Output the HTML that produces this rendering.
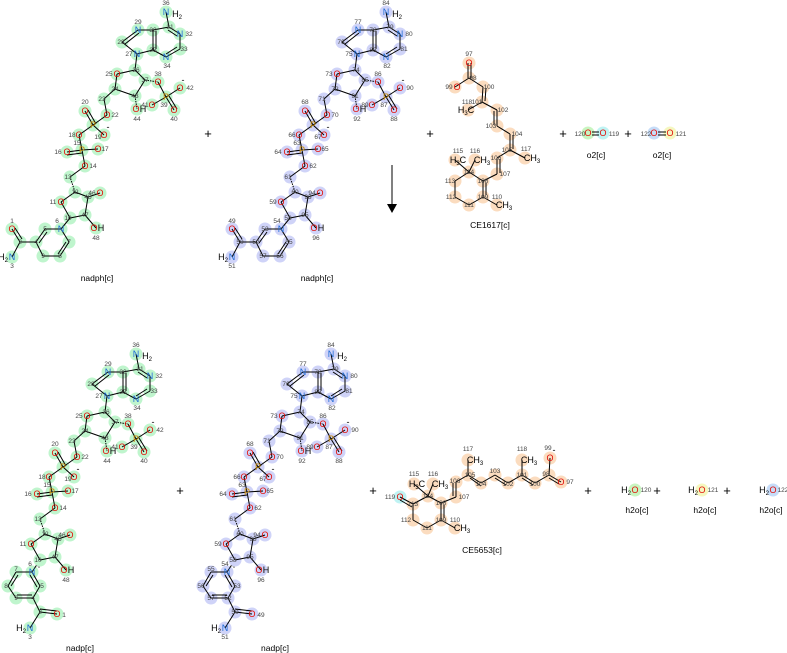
<!DOCTYPE html>
<html><head><meta charset="utf-8"><style>
html,body{margin:0;padding:0;background:#fff}
svg{display:block}
.e{font-family:"Liberation Sans",sans-serif;font-size:9px;text-anchor:middle}
.n{font-family:"Liberation Sans",sans-serif;font-size:6.5px;fill:#444;text-anchor:middle}
.k{font-family:"Liberation Sans",sans-serif;font-size:9px;text-anchor:middle;fill:#000}
.l{font-family:"Liberation Sans",sans-serif;font-size:8.5px;text-anchor:middle;fill:#000}
.p{font-family:"Liberation Sans",sans-serif;font-size:13px;text-anchor:middle;fill:#000}
.O{fill:#e2100a}.N{fill:#1e6ad6}.P{fill:#c98a00}
line{stroke:#000;stroke-width:1}
</style></head><body>
<svg width="787" height="653" viewBox="0 0 787 653" xmlns="http://www.w3.org/2000/svg">
<defs>
<g id="mc">
<circle cx="70" cy="218" r="6.5"/><circle cx="61" cy="202" r="6.5"/><circle cx="75" cy="192" r="6.5"/><circle cx="70" cy="177" r="6.5"/><circle cx="85" cy="166" r="6.5"/><circle cx="82" cy="150" r="6.5"/><circle cx="67" cy="152" r="6.5"/><circle cx="98" cy="149" r="6.5"/><circle cx="79" cy="135" r="6.5"/><circle cx="104" cy="135" r="6.5"/><circle cx="85" cy="111" r="6.5"/><circle cx="93" cy="125" r="6.5"/><circle cx="107" cy="115" r="6.5"/><circle cx="104" cy="99" r="6.5"/><circle cx="115" cy="89" r="6.5"/><circle cx="117" cy="74" r="6.5"/><circle cx="135" cy="70" r="6.5"/><circle cx="137" cy="54" r="6.5"/><circle cx="122" cy="42" r="6.5"/><circle cx="138" cy="30" r="6.5"/><circle cx="153" cy="30" r="6.5"/><circle cx="169" cy="27" r="6.5"/><circle cx="180" cy="34" r="6.5"/><circle cx="180" cy="49" r="6.5"/><circle cx="166" cy="57" r="6.5"/><circle cx="153" cy="50" r="6.5"/><circle cx="166" cy="12" r="6.5"/><circle cx="145" cy="80" r="6.5"/><circle cx="158" cy="82" r="6.5"/><circle cx="166" cy="97" r="6.5"/><circle cx="174" cy="110" r="6.5"/><circle cx="152" cy="105" r="6.5"/><circle cx="180" cy="88" r="6.5"/><circle cx="135" cy="96" r="6.5"/><circle cx="137" cy="109" r="6.5"/><circle cx="88" cy="197" r="6.5"/><circle cx="100" cy="193" r="6.5"/><circle cx="85" cy="215" r="6.5"/><circle cx="96" cy="228" r="6.5"/>
</g>
<g id="nc1">
<circle cx="12" cy="229" r="6.5"/><circle cx="20" cy="242" r="6.5"/><circle cx="12" cy="257" r="6.5"/><circle cx="36" cy="242" r="6.5"/><circle cx="45" cy="229" r="6.5"/><circle cx="61" cy="229" r="6.5"/><circle cx="69" cy="242" r="6.5"/><circle cx="60" cy="256" r="6.5"/><circle cx="43" cy="256" r="6.5"/>
</g>
<g id="nc2">
<circle cx="32" cy="572" r="6.5"/><circle cx="40" cy="586" r="6.5"/><circle cx="33" cy="598" r="6.5"/><circle cx="16" cy="598" r="6.5"/><circle cx="8" cy="586" r="6.5"/><circle cx="16" cy="572" r="6.5"/><circle cx="40" cy="612" r="6.5"/><circle cx="57" cy="614" r="6.5"/><circle cx="30" cy="628" r="6.5"/>
</g>
<g id="mb">
<line x1="70" y1="218" x2="61" y2="202"/><line x1="61" y1="202" x2="75" y2="192"/><line x1="75" y1="192" x2="88" y2="197"/><line x1="88" y1="197" x2="85" y2="215"/><line x1="85" y1="215" x2="70" y2="218"/><line x1="88" y1="197" x2="100" y2="193" stroke-width="2.5"/><line x1="85" y1="215" x2="96" y2="228" stroke-width="2.5"/><line x1="75" y1="192" x2="70" y2="177" stroke-dasharray="1.5 1"/><line x1="70" y1="177" x2="85" y2="166"/><line x1="85" y1="166" x2="82" y2="150"/><line x1="82" y1="150" x2="67" y2="152"/><line x1="82" y1="153" x2="67" y2="155"/><line x1="82" y1="150" x2="98" y2="149"/><line x1="82" y1="150" x2="79" y2="135"/><line x1="79" y1="135" x2="93" y2="125"/><line x1="93" y1="125" x2="85" y2="111"/><line x1="96" y1="124" x2="88" y2="110"/><line x1="93" y1="125" x2="104" y2="135"/><line x1="93" y1="125" x2="107" y2="115"/><line x1="107" y1="115" x2="104" y2="99"/><line x1="104" y1="99" x2="115" y2="89" stroke-width="2.5"/><line x1="115" y1="89" x2="117" y2="74"/><line x1="117" y1="74" x2="135" y2="70"/><line x1="135" y1="70" x2="145" y2="80"/><line x1="145" y1="80" x2="135" y2="96"/><line x1="135" y1="96" x2="115" y2="89"/><line x1="135" y1="96" x2="137" y2="109" stroke-dasharray="1.5 1"/><line x1="145" y1="80" x2="158" y2="82" stroke-dasharray="1.5 1"/><line x1="158" y1="82" x2="166" y2="97"/><line x1="166" y1="97" x2="174" y2="110"/><line x1="169" y1="96" x2="177" y2="109"/><line x1="166" y1="97" x2="152" y2="105"/><line x1="166" y1="97" x2="180" y2="88"/><line x1="135" y1="70" x2="137" y2="54" stroke-width="2.5"/><line x1="137" y1="54" x2="122" y2="42"/><line x1="122" y1="42" x2="138" y2="30"/><line x1="125" y1="44" x2="139" y2="33"/><line x1="138" y1="30" x2="153" y2="30"/><line x1="153" y1="30" x2="153" y2="50"/><line x1="156" y1="31" x2="156" y2="49"/><line x1="153" y1="50" x2="137" y2="54"/><line x1="153" y1="30" x2="169" y2="27"/><line x1="169" y1="27" x2="180" y2="34"/><line x1="168" y1="30" x2="177" y2="36"/><line x1="180" y1="34" x2="180" y2="49"/><line x1="180" y1="49" x2="166" y2="57"/><line x1="177" y1="47" x2="166" y2="54"/><line x1="166" y1="57" x2="153" y2="50"/><line x1="169" y1="27" x2="166" y2="12"/>
</g>
<g id="nb1">
<line x1="61" y1="229" x2="70" y2="218" stroke-width="2.5"/><line x1="12" y1="229" x2="20" y2="242"/><line x1="15" y1="228" x2="22" y2="239"/><line x1="20" y1="242" x2="12" y2="257"/><line x1="20" y1="242" x2="36" y2="242"/><line x1="36" y1="242" x2="45" y2="229"/><line x1="39" y1="243" x2="47" y2="232"/><line x1="45" y1="229" x2="61" y2="229"/><line x1="61" y1="229" x2="69" y2="242"/><line x1="69" y1="242" x2="60" y2="256"/><line x1="66" y1="242" x2="58" y2="254"/><line x1="60" y1="256" x2="43" y2="256"/><line x1="43" y1="256" x2="36" y2="242"/>
</g>
<g id="nb2">
<line x1="32" y1="572" x2="40" y2="560" stroke-width="2.5"/><line x1="32" y1="572" x2="40" y2="586"/><line x1="30" y1="575" x2="37" y2="587"/><line x1="40" y1="586" x2="33" y2="598"/><line x1="33" y1="598" x2="16" y2="598"/><line x1="32" y1="595" x2="17" y2="595"/><line x1="16" y1="598" x2="8" y2="586"/><line x1="8" y1="586" x2="16" y2="572"/><line x1="11" y1="586" x2="18" y2="575"/><line x1="16" y1="572" x2="32" y2="572"/><line x1="33" y1="598" x2="40" y2="612"/><line x1="40" y1="612" x2="57" y2="614"/><line x1="40" y1="609" x2="57" y2="611"/><line x1="40" y1="612" x2="30" y2="628"/>
</g>
</defs>

<!-- top-left nadph -->
<use href="#mc" fill="#bff5cd"/><use href="#nc1" fill="#bff5cd"/><use href="#mb"/><use href="#nb1"/>
<g>
<text class="e O" x="61" y="205">O</text><text class="e O" x="85" y="169">O</text><text class="e P" x="82" y="153">P</text><text class="e O" x="67" y="155">O</text><text class="e O" x="98" y="152">O</text><text class="e O" x="79" y="138">O</text><text class="e O" x="104" y="138">O</text><text class="k" x="108" y="130">-</text><text class="e O" x="85" y="114">O</text><text class="e P" x="93" y="128">P</text><text class="e O" x="107" y="118">O</text><text class="e O" x="117" y="77">O</text><text class="e N" x="137" y="57">N</text><text class="e N" x="138" y="33">N</text><text class="e N" x="180" y="37">N</text><text class="e N" x="166" y="60">N</text><text class="e N" x="166" y="15">N</text><text class="k" x="177" y="17">H<tspan font-size="6" dy="2">2</tspan></text><text class="e O" x="158" y="85">O</text><text class="e P" x="166" y="100">P</text><text class="e O" x="174" y="113">O</text><text class="e O" x="152" y="108">O</text><text class="e O" x="180" y="91">O</text><text class="k" x="183" y="83">-</text><text class="e O" x="136" y="112">O</text><text class="k" x="143" y="112">H</text><text class="e O" x="100" y="196">O</text><text class="e O" x="94" y="231">O</text><text class="k" x="101" y="231">H</text>
<text class="e O" x="12" y="232">O</text><text class="e N" x="12" y="260">N</text><text class="k" x="3" y="260">H<tspan font-size="6" dy="2">2</tspan></text><text class="e N" x="61" y="232">N</text>
<text class="n" x="12" y="223">1</text><text class="n" x="20" y="244">2</text><text class="n" x="12" y="268">3</text><text class="n" x="36" y="244">4</text><text class="n" x="45" y="231">5</text><text class="n" x="57" y="223">6</text><text class="n" x="69" y="244">7</text><text class="n" x="60" y="258">8</text><text class="n" x="43" y="258">9</text>
<text class="n" x="68" y="220">10</text><text class="n" x="53" y="204">11</text><text class="n" x="75" y="194">12</text><text class="n" x="68" y="179">13</text><text class="n" x="93" y="168">14</text><text class="n" x="77" y="145">15</text><text class="n" x="58" y="154">16</text><text class="n" x="105" y="151">17</text><text class="n" x="72" y="137">18</text><text class="n" x="98" y="139">19</text><text class="n" x="85" y="104">20</text><text class="n" x="115" y="117">22</text><text class="n" x="102" y="101">23</text><text class="n" x="115" y="91">24</text><text class="n" x="109" y="76">25</text><text class="n" x="136" y="72">26</text><text class="n" x="129" y="56">27</text><text class="n" x="121" y="44">28</text><text class="n" x="138" y="24">29</text><text class="n" x="153" y="32">30</text><text class="n" x="170" y="29">31</text><text class="n" x="189" y="36">32</text><text class="n" x="184" y="51">33</text><text class="n" x="167" y="68">34</text><text class="n" x="153" y="52">35</text><text class="n" x="166" y="5">36</text><text class="n" x="145" y="82">37</text><text class="n" x="158" y="76">38</text><text class="n" x="164" y="107">39</text><text class="n" x="174" y="121">40</text><text class="n" x="145" y="107">41</text><text class="n" x="190" y="90">42</text><text class="n" x="135" y="98">43</text><text class="n" x="137" y="121">44</text><text class="n" x="88" y="199">45</text><text class="n" x="92" y="195">46</text><text class="n" x="85" y="217">47</text><text class="n" x="96" y="240">48</text>
</g>
<text class="l" x="97" y="281">nadph[c]</text>

<!-- top-right nadph -->
<g transform="translate(220,0)">
<use href="#mc" fill="#cfd3f8"/><use href="#nc1" fill="#cfd3f8"/><use href="#mb"/><use href="#nb1"/>
<text class="e O" x="61" y="205">O</text><text class="e O" x="85" y="169">O</text><text class="e P" x="82" y="153">P</text><text class="e O" x="67" y="155">O</text><text class="e O" x="98" y="152">O</text><text class="e O" x="79" y="138">O</text><text class="e O" x="104" y="138">O</text><text class="k" x="108" y="130">-</text><text class="e O" x="85" y="114">O</text><text class="e P" x="93" y="128">P</text><text class="e O" x="107" y="118">O</text><text class="e O" x="117" y="77">O</text><text class="e N" x="137" y="57">N</text><text class="e N" x="138" y="33">N</text><text class="e N" x="180" y="37">N</text><text class="e N" x="166" y="60">N</text><text class="e N" x="166" y="15">N</text><text class="k" x="177" y="17">H<tspan font-size="6" dy="2">2</tspan></text><text class="e O" x="158" y="85">O</text><text class="e P" x="166" y="100">P</text><text class="e O" x="174" y="113">O</text><text class="e O" x="152" y="108">O</text><text class="e O" x="180" y="91">O</text><text class="k" x="183" y="83">-</text><text class="e O" x="136" y="112">O</text><text class="k" x="143" y="112">H</text><text class="e O" x="100" y="196">O</text><text class="e O" x="94" y="231">O</text><text class="k" x="101" y="231">H</text>
<text class="e O" x="12" y="232">O</text><text class="e N" x="12" y="260">N</text><text class="k" x="3" y="260">H<tspan font-size="6" dy="2">2</tspan></text><text class="e N" x="61" y="232">N</text>
<text class="n" x="12" y="223">49</text><text class="n" x="20" y="244">50</text><text class="n" x="12" y="268">51</text><text class="n" x="36" y="244">52</text><text class="n" x="45" y="231">53</text><text class="n" x="57" y="223">54</text><text class="n" x="69" y="244">55</text><text class="n" x="60" y="258">56</text><text class="n" x="43" y="258">57</text>
<text class="n" x="68" y="220">58</text><text class="n" x="53" y="204">59</text><text class="n" x="75" y="194">60</text><text class="n" x="68" y="179">61</text><text class="n" x="93" y="168">62</text><text class="n" x="77" y="145">63</text><text class="n" x="58" y="154">64</text><text class="n" x="105" y="151">65</text><text class="n" x="72" y="137">66</text><text class="n" x="98" y="139">67</text><text class="n" x="85" y="104">68</text><text class="n" x="115" y="117">70</text><text class="n" x="102" y="101">71</text><text class="n" x="115" y="91">72</text><text class="n" x="109" y="76">73</text><text class="n" x="136" y="72">74</text><text class="n" x="129" y="56">75</text><text class="n" x="121" y="44">76</text><text class="n" x="138" y="24">77</text><text class="n" x="153" y="32">78</text><text class="n" x="170" y="29">79</text><text class="n" x="189" y="36">80</text><text class="n" x="184" y="51">81</text><text class="n" x="167" y="68">82</text><text class="n" x="153" y="52">83</text><text class="n" x="166" y="5">84</text><text class="n" x="145" y="82">85</text><text class="n" x="158" y="76">86</text><text class="n" x="164" y="107">87</text><text class="n" x="174" y="121">88</text><text class="n" x="145" y="107">89</text><text class="n" x="190" y="90">90</text><text class="n" x="135" y="98">91</text><text class="n" x="137" y="121">92</text><text class="n" x="88" y="199">93</text><text class="n" x="92" y="195">94</text><text class="n" x="85" y="217">95</text><text class="n" x="96" y="240">96</text>
</g>
<text class="l" x="317" y="281">nadph[c]</text>

<!-- plus & arrow top -->
<text class="p" x="208" y="138">+</text><text class="p" x="430" y="138">+</text><text class="p" x="563" y="138">+</text><text class="p" x="628" y="138">+</text>
<line x1="392" y1="165" x2="392" y2="206" stroke-width="2"/><polygon points="387,204 397,204 392,213" fill="#000"/>

<!-- CE1617 -->
<g fill="#fbdcbf">
<circle cx="469" cy="63" r="6.5"/><circle cx="469" cy="78" r="6.5"/><circle cx="455" cy="87" r="6.5"/><circle cx="483" cy="87" r="6.5"/><circle cx="482" cy="102" r="6.5"/><circle cx="468" cy="110" r="6.5"/><circle cx="497" cy="110" r="6.5"/><circle cx="497" cy="126" r="6.5"/><circle cx="510" cy="134" r="6.5"/><circle cx="510" cy="150" r="6.5"/><circle cx="525" cy="158" r="6.5"/><circle cx="497" cy="158" r="6.5"/><circle cx="497" cy="174" r="6.5"/><circle cx="483" cy="181" r="6.5"/><circle cx="469" cy="172" r="6.5"/><circle cx="455" cy="160" r="6.5"/><circle cx="475" cy="160" r="6.5"/><circle cx="455" cy="181" r="6.5"/><circle cx="455" cy="197" r="6.5"/><circle cx="469" cy="205" r="6.5"/><circle cx="483" cy="197" r="6.5"/><circle cx="497" cy="205" r="6.5"/>
</g>
<g>
<line x1="468" y1="63" x2="468" y2="78"/><line x1="471" y1="63" x2="471" y2="78"/><line x1="469" y1="78" x2="455" y2="87"/><line x1="469" y1="78" x2="483" y2="87"/><line x1="483" y1="87" x2="482" y2="102"/><line x1="486" y1="88" x2="485" y2="101"/><line x1="482" y1="102" x2="468" y2="110"/><line x1="482" y1="102" x2="497" y2="110"/><line x1="497" y1="110" x2="497" y2="126"/><line x1="494" y1="111" x2="494" y2="125"/><line x1="497" y1="126" x2="510" y2="134"/><line x1="510" y1="134" x2="510" y2="150"/><line x1="513" y1="135" x2="513" y2="149"/><line x1="510" y1="150" x2="525" y2="158"/><line x1="510" y1="150" x2="497" y2="158"/><line x1="497" y1="158" x2="497" y2="174"/><line x1="500" y1="159" x2="500" y2="173"/><line x1="497" y1="174" x2="483" y2="181"/><line x1="483" y1="181" x2="469" y2="172"/><line x1="469" y1="172" x2="455" y2="160"/><line x1="469" y1="172" x2="475" y2="160"/><line x1="469" y1="172" x2="455" y2="181"/><line x1="455" y1="181" x2="455" y2="197"/><line x1="455" y1="197" x2="469" y2="205"/><line x1="469" y1="205" x2="483" y2="197"/><line x1="483" y1="197" x2="483" y2="181"/><line x1="486" y1="195" x2="486" y2="183"/><line x1="483" y1="197" x2="497" y2="205"/>
<text class="e O" x="469" y="66">O</text><text class="e O" x="457" y="90">O</text><text class="k" x="466" y="113">H<tspan font-size="6" dy="2">3</tspan><tspan dy="-2">C</tspan></text><text class="k" x="532" y="161">CH<tspan font-size="6" dy="2">3</tspan></text><text class="k" x="458" y="163">H<tspan font-size="6" dy="2">3</tspan><tspan dy="-2">C</tspan></text><text class="k" x="482" y="163">CH<tspan font-size="6" dy="2">3</tspan></text><text class="k" x="504" y="208">CH<tspan font-size="6" dy="2">3</tspan></text>
<text class="n" x="469" y="56">97</text><text class="n" x="473" y="80">98</text><text class="n" x="449" y="89">99</text><text class="n" x="489" y="89">100</text><text class="n" x="477" y="104">101</text><text class="n" x="503" y="112">102</text><text class="n" x="491" y="128">103</text><text class="n" x="517" y="136">104</text><text class="n" x="507" y="152">105</text><text class="n" x="496" y="160">106</text><text class="n" x="505" y="176">107</text><text class="n" x="483" y="183">108</text><text class="n" x="483" y="199">109</text><text class="n" x="497" y="199">110</text><text class="n" x="469" y="207">111</text><text class="n" x="451" y="199">112</text><text class="n" x="450" y="183">113</text><text class="n" x="469" y="174">114</text><text class="n" x="458" y="153">115</text><text class="n" x="475" y="153">116</text><text class="n" x="526" y="151">117</text><text class="n" x="467" y="104">118</text>
</g>
<text class="l" x="490" y="228">CE1617[c]</text>

<!-- o2 -->
<circle cx="588" cy="133" r="6.5" fill="#c8f5c0"/><circle cx="603" cy="133" r="6.5" fill="#bff3f3"/>
<line x1="592" y1="132" x2="599" y2="132"/><line x1="592" y1="135" x2="599" y2="135"/>
<text class="e O" x="588" y="136">O</text><text class="e O" x="603" y="136">O</text>
<text class="n" x="580" y="136">120</text><text class="n" x="614" y="136">119</text>
<text class="l" x="596" y="158">o2[c]</text>
<circle cx="654" cy="133" r="6.5" fill="#c6dcf8"/><circle cx="670" cy="133" r="6.5" fill="#f5f7bf"/>
<line x1="658" y1="132" x2="666" y2="132"/><line x1="658" y1="135" x2="666" y2="135"/>
<text class="e O" x="654" y="136">O</text><text class="e O" x="670" y="136">O</text>
<text class="n" x="646" y="136">122</text><text class="n" x="681" y="136">121</text>
<text class="l" x="662" y="158">o2[c]</text>

<!-- bottom-left nadp -->
<use href="#nc2" fill="#bff5cd"/><use href="#nb2"/>
<text class="e O" x="57" y="617">O</text><text class="e N" x="30" y="631">N</text><text class="k" x="21" y="631">H<tspan font-size="6" dy="2">2</tspan></text><text class="e N" x="32" y="575">N</text><text class="k" x="39" y="569">+</text>
<text class="n" x="64" y="617">1</text><text class="n" x="40" y="614">2</text><text class="n" x="30" y="639">3</text><text class="n" x="33" y="600">4</text><text class="n" x="42" y="588">5</text><text class="n" x="30" y="566">6</text><text class="n" x="16" y="571">7</text><text class="n" x="6" y="588">8</text><text class="n" x="16" y="600">9</text>
<g transform="translate(-30,342)">
<use href="#mc" fill="#bff5cd"/><use href="#mb"/>
<text class="e O" x="61" y="205">O</text><text class="e O" x="85" y="169">O</text><text class="e P" x="82" y="153">P</text><text class="e O" x="67" y="155">O</text><text class="e O" x="98" y="152">O</text><text class="e O" x="79" y="138">O</text><text class="e O" x="104" y="138">O</text><text class="k" x="108" y="130">-</text><text class="e O" x="85" y="114">O</text><text class="e P" x="93" y="128">P</text><text class="e O" x="107" y="118">O</text><text class="e O" x="117" y="77">O</text><text class="e N" x="137" y="57">N</text><text class="e N" x="138" y="33">N</text><text class="e N" x="180" y="37">N</text><text class="e N" x="166" y="60">N</text><text class="e N" x="166" y="15">N</text><text class="k" x="177" y="17">H<tspan font-size="6" dy="2">2</tspan></text><text class="e O" x="158" y="85">O</text><text class="e P" x="166" y="100">P</text><text class="e O" x="174" y="113">O</text><text class="e O" x="152" y="108">O</text><text class="e O" x="180" y="91">O</text><text class="k" x="183" y="83">-</text><text class="e O" x="136" y="112">O</text><text class="k" x="143" y="112">H</text><text class="e O" x="100" y="196">O</text><text class="e O" x="94" y="231">O</text><text class="k" x="101" y="231">H</text>
<text class="n" x="68" y="220">10</text><text class="n" x="53" y="204">11</text><text class="n" x="75" y="194">12</text><text class="n" x="68" y="179">13</text><text class="n" x="93" y="168">14</text><text class="n" x="77" y="145">15</text><text class="n" x="58" y="154">16</text><text class="n" x="105" y="151">17</text><text class="n" x="72" y="137">18</text><text class="n" x="98" y="139">19</text><text class="n" x="85" y="104">20</text><text class="n" x="115" y="117">22</text><text class="n" x="102" y="101">23</text><text class="n" x="115" y="91">24</text><text class="n" x="109" y="76">25</text><text class="n" x="136" y="72">26</text><text class="n" x="129" y="56">27</text><text class="n" x="121" y="44">28</text><text class="n" x="138" y="24">29</text><text class="n" x="153" y="32">30</text><text class="n" x="170" y="29">31</text><text class="n" x="189" y="36">32</text><text class="n" x="184" y="51">33</text><text class="n" x="167" y="68">34</text><text class="n" x="153" y="52">35</text><text class="n" x="166" y="5">36</text><text class="n" x="145" y="82">37</text><text class="n" x="158" y="76">38</text><text class="n" x="164" y="107">39</text><text class="n" x="174" y="121">40</text><text class="n" x="145" y="107">41</text><text class="n" x="190" y="90">42</text><text class="n" x="135" y="98">43</text><text class="n" x="137" y="121">44</text><text class="n" x="88" y="199">45</text><text class="n" x="92" y="195">46</text><text class="n" x="85" y="217">47</text><text class="n" x="96" y="240">48</text>
</g>
<text class="l" x="80" y="651">nadp[c]</text>

<!-- bottom-right nadp -->
<g transform="translate(195,0)">
<use href="#nc2" fill="#cfd3f8"/><use href="#nb2"/>
<text class="e O" x="57" y="617">O</text><text class="e N" x="30" y="631">N</text><text class="k" x="21" y="631">H<tspan font-size="6" dy="2">2</tspan></text><text class="e N" x="32" y="575">N</text><text class="k" x="39" y="569">+</text>
<text class="n" x="66" y="617">49</text><text class="n" x="40" y="614">50</text><text class="n" x="30" y="639">51</text><text class="n" x="33" y="600">52</text><text class="n" x="42" y="588">53</text><text class="n" x="30" y="566">54</text><text class="n" x="16" y="571">55</text><text class="n" x="6" y="588">56</text><text class="n" x="16" y="600">57</text>
</g>
<g transform="translate(165,342)">
<use href="#mc" fill="#cfd3f8"/><use href="#mb"/>
<text class="e O" x="61" y="205">O</text><text class="e O" x="85" y="169">O</text><text class="e P" x="82" y="153">P</text><text class="e O" x="67" y="155">O</text><text class="e O" x="98" y="152">O</text><text class="e O" x="79" y="138">O</text><text class="e O" x="104" y="138">O</text><text class="k" x="108" y="130">-</text><text class="e O" x="85" y="114">O</text><text class="e P" x="93" y="128">P</text><text class="e O" x="107" y="118">O</text><text class="e O" x="117" y="77">O</text><text class="e N" x="137" y="57">N</text><text class="e N" x="138" y="33">N</text><text class="e N" x="180" y="37">N</text><text class="e N" x="166" y="60">N</text><text class="e N" x="166" y="15">N</text><text class="k" x="177" y="17">H<tspan font-size="6" dy="2">2</tspan></text><text class="e O" x="158" y="85">O</text><text class="e P" x="166" y="100">P</text><text class="e O" x="174" y="113">O</text><text class="e O" x="152" y="108">O</text><text class="e O" x="180" y="91">O</text><text class="k" x="183" y="83">-</text><text class="e O" x="136" y="112">O</text><text class="k" x="143" y="112">H</text><text class="e O" x="100" y="196">O</text><text class="e O" x="94" y="231">O</text><text class="k" x="101" y="231">H</text>
<text class="n" x="68" y="220">58</text><text class="n" x="53" y="204">59</text><text class="n" x="75" y="194">60</text><text class="n" x="68" y="179">61</text><text class="n" x="93" y="168">62</text><text class="n" x="77" y="145">63</text><text class="n" x="58" y="154">64</text><text class="n" x="105" y="151">65</text><text class="n" x="72" y="137">66</text><text class="n" x="98" y="139">67</text><text class="n" x="85" y="104">68</text><text class="n" x="115" y="117">70</text><text class="n" x="102" y="101">71</text><text class="n" x="115" y="91">72</text><text class="n" x="109" y="76">73</text><text class="n" x="136" y="72">74</text><text class="n" x="129" y="56">75</text><text class="n" x="121" y="44">76</text><text class="n" x="138" y="24">77</text><text class="n" x="153" y="32">78</text><text class="n" x="170" y="29">79</text><text class="n" x="189" y="36">80</text><text class="n" x="184" y="51">81</text><text class="n" x="167" y="68">82</text><text class="n" x="153" y="52">83</text><text class="n" x="166" y="5">84</text><text class="n" x="145" y="82">85</text><text class="n" x="158" y="76">86</text><text class="n" x="164" y="107">87</text><text class="n" x="174" y="121">88</text><text class="n" x="145" y="107">89</text><text class="n" x="190" y="90">90</text><text class="n" x="135" y="98">91</text><text class="n" x="137" y="121">92</text><text class="n" x="88" y="199">93</text><text class="n" x="92" y="195">94</text><text class="n" x="85" y="217">95</text><text class="n" x="96" y="240">96</text>
</g>
<text class="l" x="275" y="651">nadp[c]</text>

<!-- plus bottom -->
<text class="p" x="180" y="495">+</text><text class="p" x="373" y="495">+</text><text class="p" x="588" y="495">+</text><text class="p" x="657" y="495">+</text><text class="p" x="727" y="495">+</text>

<!-- CE5653 -->
<g fill="#fbdcbf">
<circle cx="468" cy="460" r="6.5"/><circle cx="468" cy="475" r="6.5"/><circle cx="456" cy="482" r="6.5"/><circle cx="481" cy="483" r="6.5"/><circle cx="495" cy="475" r="6.5"/><circle cx="508" cy="483" r="6.5"/><circle cx="522" cy="475" r="6.5"/><circle cx="522" cy="460" r="6.5"/><circle cx="535" cy="483" r="6.5"/><circle cx="549" cy="475" r="6.5"/><circle cx="550" cy="458" r="6.5"/><circle cx="561" cy="482" r="6.5"/><circle cx="456" cy="497" r="6.5"/><circle cx="441" cy="503" r="6.5"/><circle cx="428" cy="496" r="6.5"/><circle cx="414" cy="484" r="6.5"/><circle cx="433" cy="484" r="6.5"/><circle cx="413" cy="504" r="6.5"/><circle cx="413" cy="520" r="6.5"/><circle cx="427" cy="528" r="6.5"/><circle cx="441" cy="520" r="6.5"/><circle cx="455" cy="528" r="6.5"/>
</g>
<circle cx="400" cy="497" r="6.5" fill="#bff3f3"/>
<g>
<line x1="468" y1="460" x2="468" y2="475"/><line x1="468" y1="475" x2="456" y2="482"/><line x1="468" y1="475" x2="481" y2="483"/><line x1="470" y1="478" x2="481" y2="486"/><line x1="481" y1="483" x2="495" y2="475"/><line x1="495" y1="475" x2="508" y2="483"/><line x1="495" y1="478" x2="506" y2="485"/><line x1="508" y1="483" x2="522" y2="475"/><line x1="522" y1="475" x2="522" y2="460"/><line x1="522" y1="475" x2="535" y2="483"/><line x1="522" y1="478" x2="533" y2="485"/><line x1="535" y1="483" x2="549" y2="475"/><line x1="549" y1="475" x2="550" y2="458"/><line x1="549" y1="475" x2="561" y2="482"/><line x1="549" y1="478" x2="559" y2="484"/><line x1="456" y1="482" x2="456" y2="497"/><line x1="453" y1="483" x2="453" y2="496"/><line x1="456" y1="497" x2="441" y2="503"/><line x1="441" y1="503" x2="428" y2="496"/><line x1="428" y1="496" x2="414" y2="484"/><line x1="428" y1="496" x2="433" y2="484"/><line x1="428" y1="496" x2="413" y2="504"/><line x1="413" y1="504" x2="400" y2="497"/><line x1="412" y1="507" x2="400" y2="500"/><line x1="413" y1="504" x2="413" y2="520"/><line x1="413" y1="520" x2="427" y2="528"/><line x1="427" y1="528" x2="441" y2="520"/><line x1="441" y1="520" x2="441" y2="503"/><line x1="444" y1="518" x2="444" y2="505"/><line x1="441" y1="520" x2="455" y2="528"/>
<text class="k" x="475" y="463">CH<tspan font-size="6" dy="2">3</tspan></text><text class="k" x="529" y="463">CH<tspan font-size="6" dy="2">3</tspan></text><text class="e O" x="550" y="461">O</text><text class="k" x="554" y="453">-</text><text class="e O" x="561" y="485">O</text><text class="k" x="417" y="487">H<tspan font-size="6" dy="2">3</tspan><tspan dy="-2">C</tspan></text><text class="k" x="440" y="487">CH<tspan font-size="6" dy="2">3</tspan></text><text class="e O" x="400" y="500">O</text><text class="k" x="462" y="531">CH<tspan font-size="6" dy="2">3</tspan></text>
<text class="n" x="468" y="451">117</text><text class="n" x="522" y="451">118</text><text class="n" x="548" y="450">99</text><text class="n" x="570" y="484">97</text><text class="n" x="546" y="476">98</text><text class="n" x="535" y="486">100</text><text class="n" x="522" y="477">101</text><text class="n" x="508" y="486">102</text><text class="n" x="495" y="473">103</text><text class="n" x="481" y="486">104</text><text class="n" x="470" y="477">105</text><text class="n" x="455" y="483">106</text><text class="n" x="464" y="499">107</text><text class="n" x="441" y="505">108</text><text class="n" x="441" y="522">109</text><text class="n" x="455" y="522">110</text><text class="n" x="427" y="530">111</text><text class="n" x="406" y="522">112</text><text class="n" x="413" y="506">113</text><text class="n" x="428" y="498">114</text><text class="n" x="414" y="476">115</text><text class="n" x="433" y="476">116</text><text class="n" x="390" y="499">119</text>
</g>
<text class="l" x="482" y="553">CE5653[c]</text>

<!-- h2o -->
<circle cx="635" cy="490" r="6.5" fill="#c8f5c0"/>
<text class="k" x="626" y="493">H<tspan font-size="6" dy="2">2</tspan></text><text class="e O" x="635" y="493">O</text><text class="n" x="646" y="492">120</text>
<text class="l" x="637" y="513">h2o[c]</text>
<circle cx="702" cy="490" r="6.5" fill="#f5f7bf"/>
<text class="k" x="693" y="493">H<tspan font-size="6" dy="2">2</tspan></text><text class="e O" x="702" y="493">O</text><text class="n" x="713" y="492">121</text>
<text class="l" x="705" y="513">h2o[c]</text>
<circle cx="773" cy="490" r="6.5" fill="#c6dcf8"/>
<text class="k" x="764" y="493">H<tspan font-size="6" dy="2">2</tspan></text><text class="e O" x="773" y="493">O</text><text class="n" x="783" y="492">122</text>
<text class="l" x="771" y="513">h2o[c]</text>
</svg>
</body></html>
